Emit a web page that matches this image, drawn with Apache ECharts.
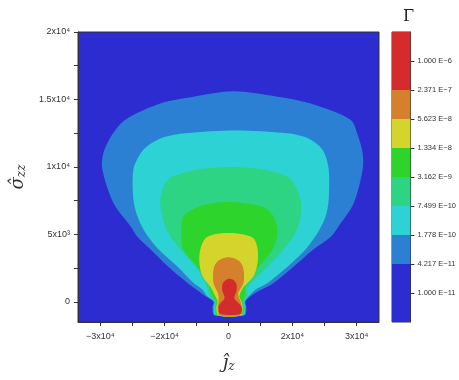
<!DOCTYPE html>
<html>
<head>
<meta charset="utf-8">
<script src="https://cdn.jsdelivr.net/npm/echarts@6/dist/echarts.min.js"></script>
<style>
  html, body { margin: 0; padding: 0; background: #fff; }
  #chart { width: 459px; height: 380px; }
</style>
</head>
<body>
<div id="chart"></div>
<script>
// axis ticks / labels
const xTickValues = [-40000, -30000, -20000, -10000, 0, 10000, 20000, 30000, 40000];
const xLabelValues = [-40000, -20000, 0, 20000, 40000];
const xLabels = ['\u22123x10\u2074', '\u22122x10\u2074', '0', '2x10\u2074', '3x10\u2074'];
const yTickValues = [0, 2500, 5000, 7500, 10000, 12500, 15000, 17500, 20000];
const yLabelValues = [0, 5000, 10000, 15000, 20000];
const yLabels = ['0', '5x10\u00b3', '1x10\u2074', '1.5x10\u2074', '2x10\u2074'];

// colour bar: log10(Gamma)
const gammaExp = [-11, -10.375, -9.75, -9.125, -8.5, -7.875, -7.25, -6.625, -6];
const gammaLabels = ['1.000 E\u221211', '4.217 E\u221211', '1.778 E\u221210', '7.499 E\u221210',
  '3.162 E\u22129', '1.334 E\u22128', '5.623 E\u22128', '2.371 E\u22127', '1.000 E\u22126'];
const bandEdges = [-11.625, -10.375, -9.75, -9.125, -8.5, -7.875, -7.25, -6.625, -5.375];
const bandColors = ['#2c2cd0', '#2c80d4', '#2cd2d4', '#2cd484', '#2cd42c', '#d4d42c', '#d4802c', '#d42c2c'];

// contour regions [j_z, sigma_zz], Gamma above each band's lower edge
const contour1 = [[-4400,-1000],[-5000,-400],[-4700,0],[-7200,400],[-9400,800],[-12800,1400],[-18800,2600],
  [-24400,3900],[-28400,4800],[-30600,5600],[-35900,7300],[-39400,9800],[-39100,11000],[-36300,12400],
  [-32200,13500],[-21300,14700],[-10900,15200],[1600,15600],[15300,15200],[25600,14700],[38100,13500],
  [40300,12400],[41900,11000],[41900,9800],[39100,7300],[34400,5600],[31900,4800],[26600,3900],
  [20300,2600],[14100,1400],[9400,800],[6900,400],[5300,0],[5600,-400],[5000,-1000]];
const contour2 = [[-4100,-1000],[-4700,-400],[-4400,0],[-6600,400],[-8100,900],[-10900,1400],[-15900,2600],
  [-21900,3900],[-25900,5100],[-28400,6300],[-29700,7600],[-29700,9800],[-27500,11000],[-25000,11600],
  [-20300,12200],[-13400,12500],[2200,12700],[18400,12500],[24100,12200],[28100,11600],[30000,11000],
  [31300,9800],[31300,7600],[30300,6300],[27800,5100],[24100,3900],[18400,2600],[12200,1400],
  [8400,900],[6300,400],[5000,0],[5300,-400],[4700,-1000]];
const contour3 = [[-3800,-1000],[-4400,-400],[-4100,0],[-5900,400],[-6300,800],[-7200,1400],[-10300,2600],
  [-15000,3900],[-18800,5100],[-20600,6300],[-21300,7600],[-19700,8800],[-17200,9300],[-9700,9800],
  [600,10000],[10900,9800],[18400,9300],[20300,8800],[22500,7600],[22500,6300],[20900,5100],
  [17200,3900],[12200,2600],[6900,1400],[5600,800],[5900,400],[4700,0],[5000,-400],[4400,-1000]];
const contour4 = [[-3400,-1000],[-4100,-400],[-3800,0],[-5000,400],[-6300,1400],[-9700,2600],[-14100,3900],
  [-14700,5100],[-14100,6300],[-9700,7000],[-5000,7300],[0,7400],[5000,7300],[10900,7000],[14100,6300],
  [15300,5100],[13800,3900],[9400,2600],[5300,1400],[5000,400],[4400,0],[4700,-400],[4100,-1000]];
const contour5 = [[-3100,-1000],[-3800,-400],[-3400,0],[-4100,400],[-5600,1100],[-8100,1900],[-9100,2900],
  [-8800,3900],[-7200,4700],[-4400,5000],[0,5100],[4400,5000],[7800,4700],[9100,3900],[9100,2900],
  [7800,1900],[4700,1100],[3400,400],[4100,0],[4400,-400],[3800,-1000]];
const contour6 = [[-2800,-1000],[-3400,-400],[-3100,0],[-3100,400],[-3400,700],[-4700,1400],[-4700,2400],
  [-3800,2900],[-1900,3200],[0,3300],[1900,3200],[3800,2900],[4700,2400],[4700,1400],[3100,700],
  [3100,400],[3800,0],[4100,-400],[3400,-1000]];
const contour7 = [[-2500,-900],[-3100,-400],[-2500,-100],[-1300,200],[-1300,400],[-1900,800],[-1900,1300],
  [-900,1600],[300,1700],[1600,1600],[2500,1300],[2500,800],[1900,400],[1900,200],[3100,-100],
  [4100,-400],[3800,-900]];
const contours = [contour1, contour2, contour3, contour4, contour5, contour6, contour7];

function pick(values, labels, v) {
  let best = 0;
  values.forEach((t, i) => { if (Math.abs(t - v) < Math.abs(values[best] - v)) best = i; });
  return labels[best];
}

const chart = echarts.init(document.getElementById('chart'));
const tickFont = { fontFamily: 'Liberation Sans, Arial, sans-serif', fontSize: 9, color: '#333' };

chart.setOption({
  animation: false,
  title: {
    text: '\u0393', left: 398, top: 4,
    textStyle: { fontFamily: 'DejaVu Serif', fontSize: 16, fontWeight: 'normal', color: '#222' }
  },
  grid: [
    { left: 78, top: 32, width: 301, height: 290, show: true, backgroundColor: bandColors[0],
      borderColor: '#333', borderWidth: 1 },
    { left: 392, top: 32, width: 20, height: 290, show: true, borderColor: '#333', borderWidth: 1 }
  ],
  xAxis: [
    {
      gridIndex: 0, type: 'value', min: -47000, max: 47000,
      name: '{a|\u0135}{b|z}', nameLocation: 'middle', nameGap: 31,
      nameTextStyle: { rich: {
        a: { fontFamily: 'DejaVu Serif', fontStyle: 'italic', fontSize: 19, color: '#333' },
        b: { fontFamily: 'DejaVu Serif', fontStyle: 'italic', fontSize: 12, color: '#333', padding: [8, 0, 0, 0] }
      } },
      axisLine: { onZero: false, lineStyle: { color: '#333' } },
      axisTick: { length: 4, customValues: xTickValues, lineStyle: { color: '#333' } },
      axisLabel: Object.assign({ margin: 10, customValues: xLabelValues,
        formatter: v => pick(xLabelValues, xLabels, v) }, tickFont),
      splitLine: { show: false }
    },
    { gridIndex: 1, type: 'value', min: 0, max: 1, show: false }
  ],
  yAxis: [
    {
      gridIndex: 0, type: 'value', min: -1500, max: 20000,
      name: '{a|\u03c3\u0302}{b|zz}', nameLocation: 'middle', nameGap: 48, nameRotate: 90,
      nameTextStyle: { rich: {
        a: { fontFamily: 'DejaVu Serif', fontStyle: 'italic', fontSize: 18, color: '#333' },
        b: { fontFamily: 'DejaVu Serif', fontStyle: 'italic', fontSize: 12, color: '#333', padding: [8, 0, 0, 0] }
      } },
      axisLine: { onZero: false, lineStyle: { color: '#333' } },
      axisTick: { length: 4, customValues: yTickValues, lineStyle: { color: '#333' } },
      axisLabel: Object.assign({ margin: 8, customValues: yLabelValues,
        formatter: v => pick(yLabelValues, yLabels, v) }, tickFont),
      splitLine: { show: false }
    },
    {
      gridIndex: 1, type: 'value', min: -11.625, max: -5.375, position: 'right',
      axisLine: { show: true, onZero: false, lineStyle: { color: '#333' } },
      axisTick: { length: 4, customValues: gammaExp, lineStyle: { color: '#333' } },
      axisLabel: Object.assign({ margin: 7, customValues: gammaExp,
        formatter: v => pick(gammaExp, gammaLabels, v) }, tickFont, { fontSize: 7.5 }),
      splitLine: { show: false }
    }
  ],
  series: [
    {
      type: 'custom', xAxisIndex: 0, yAxisIndex: 0,
      data: contours.map((c, i) => [0, 0, i]),
      renderItem: (params, api) => {
        const idx = params.dataIndex;
        return {
          type: 'polygon',
          shape: { points: contours[idx].map(p => api.coord(p)), smooth: 0.3 },
          style: { fill: bandColors[idx + 1] }
        };
      }
    },
    {
      type: 'custom', xAxisIndex: 1, yAxisIndex: 1,
      data: bandColors.map((c, i) => [bandEdges[i], bandEdges[i + 1]]),
      renderItem: (params, api) => {
        const a = api.coord([0, api.value(0)]);
        const b = api.coord([1, api.value(1)]);
        return {
          type: 'rect',
          shape: { x: a[0], y: b[1], width: b[0] - a[0], height: a[1] - b[1] },
          style: { fill: bandColors[params.dataIndex] }
        };
      },
      encode: { x: -1, y: [0, 1] }
    }
  ]
});
</script>
</body>
</html>
